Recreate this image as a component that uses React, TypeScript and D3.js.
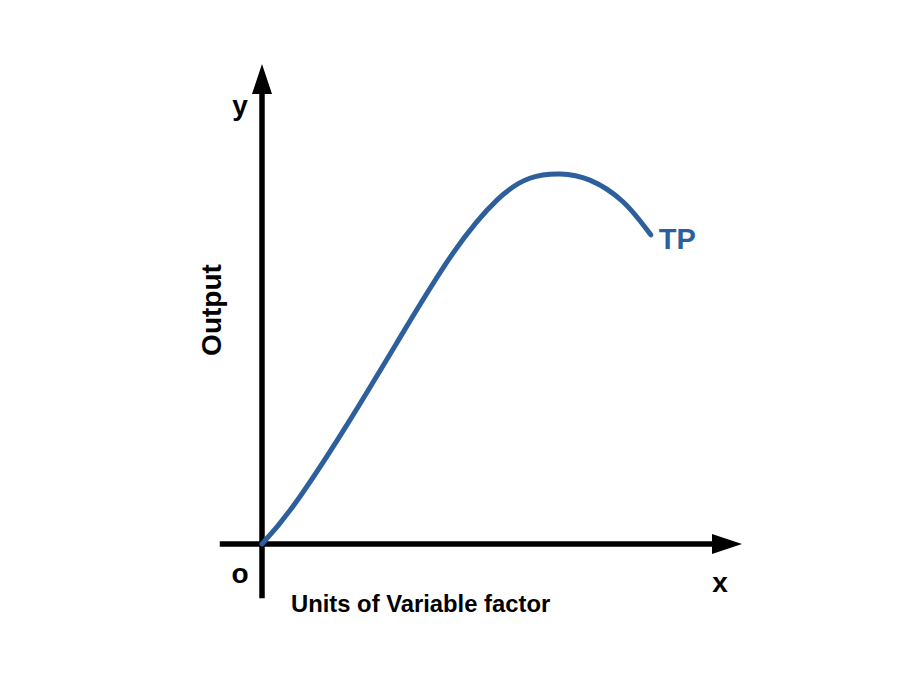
import React from "react";
import * as d3 from "d3";

// Total product curve (units of variable factor vs output)
const units = [0, 6.5, 17.3, 28.8, 39.8, 49.0, 55.8, 62.1, 68.3, 75.2, 81.0];
const output = [0, 7.9, 24.2, 43.1, 60.6, 71.7, 76.2, 77.1, 75.8, 71.3, 64.4];

const xLabel = "Units of Variable factor";
const yLabel = "Output";
const curveLabel = "TP";

const W = 907;
const H = 680;
const BLUE = "#2c5f9b";

export default function App() {
  const x = d3.scaleLinear().domain([0, 100]).range([262, 742]);
  const y = d3.scaleLinear().domain([0, 100]).range([544, 64]);

  const pts: [number, number][] = units.map((u, i) => [u, output[i]]);
  const line = d3
    .line<[number, number]>()
    .x((d) => x(d[0]))
    .y((d) => y(d[1]))
    .curve(d3.curveNatural);

  const x0 = x(0);
  const y0 = y(0);
  const xEnd = x(100);
  const yEnd = y(100);
  const head = 30;
  const half = 10;
  const last = pts[pts.length - 1];
  const font = "'Liberation Sans', Arial, sans-serif";

  return (
    <svg
      width={W}
      height={H}
      style={{ position: "absolute", left: 0, top: 0, background: "#fff" }}
    >
      {/* y axis */}
      <line x1={x0} x2={x0} y1={y(-11.3)} y2={yEnd + head - 1} stroke="#000" strokeWidth={5.5} />
      <path
        d={`M${x0},${yEnd} L${x0 - half},${yEnd + head} L${x0 + half},${yEnd + head} Z`}
        fill="#000"
      />
      {/* x axis */}
      <line x1={x(-8.8)} x2={xEnd - head + 1} y1={y0} y2={y0} stroke="#000" strokeWidth={5.5} />
      <path
        d={`M${xEnd},${y0} L${xEnd - head},${y0 - half} L${xEnd - head},${y0 + half} Z`}
        fill="#000"
      />
      {/* TP curve */}
      <path
        d={line(pts) || ""}
        fill="none"
        stroke={BLUE}
        strokeWidth={5}
        strokeLinecap="round"
      />
      <text
        x={x(last[0]) + 8}
        y={y(last[1]) + 14}
        fill={BLUE}
        fontFamily={font}
        fontWeight="bold"
        fontSize={29}
      >
        {curveLabel}
      </text>
      {/* axis letters */}
      <text x={240} y={115} textAnchor="middle" fontFamily={font} fontWeight="bold" fontSize={28}>
        y
      </text>
      <text x={240} y={583} textAnchor="middle" fontFamily={font} fontWeight="bold" fontSize={28}>
        o
      </text>
      <text x={720} y={592} textAnchor="middle" fontFamily={font} fontWeight="bold" fontSize={28}>
        x
      </text>
      {/* axis titles */}
      <text
        transform={`translate(221,310) rotate(-90)`}
        textAnchor="middle"
        fontFamily={font}
        fontWeight="bold"
        fontSize={28}
      >
        {yLabel}
      </text>
      <text x={291} y={612} fontFamily={font} fontWeight="bold" fontSize={23.8}>
        {xLabel}
      </text>
    </svg>
  );
}
